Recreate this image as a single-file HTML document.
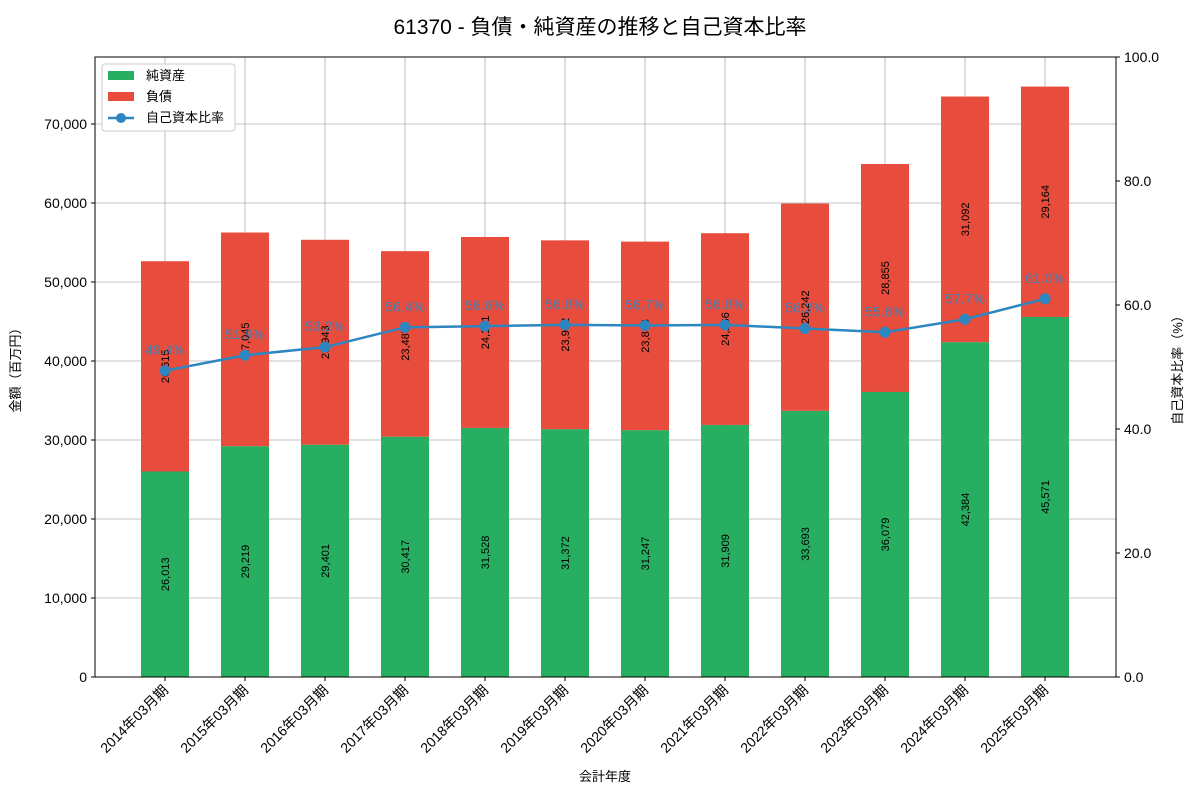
<!DOCTYPE html>
<html><head><meta charset="utf-8">
<style>
body{margin:0;background:#fff;font-family:"Liberation Sans","Noto Sans CJK JP",sans-serif;}
svg text{font-family:"Liberation Sans","Noto Sans CJK JP",sans-serif;}
</style></head>
<body>
<svg id="chart" width="1200" height="800" xmlns="http://www.w3.org/2000/svg">
<text x="600" y="34" text-anchor="middle" font-size="21" fill="#000">61370 - 負債・純資産の推移と自己資本比率</text>
<g id="grid"></g>
<g id="bars"></g>
<g id="line"></g>
<g id="axes"></g>
<text x="20" y="367" transform="rotate(-90 20 367)" text-anchor="middle" font-size="13">金額（百万円）</text>
<text x="1182" y="367" transform="rotate(-90 1182 367)" text-anchor="middle" font-size="13">自己資本比率（%）</text>
<text x="605" y="781" text-anchor="middle" font-size="13">会計年度</text>
<g>
<rect x="102" y="64" width="133" height="67" fill="#fff" stroke="#ccc" rx="3"/>
<rect x="108" y="71" width="26" height="9" fill="#27ae60"/>
<text x="146" y="80" font-size="13">純資産</text>
<rect x="108" y="92" width="26" height="9" fill="#e74c3c"/>
<text x="146" y="101" font-size="13">負債</text>
<line x1="108" y1="118" x2="134" y2="118" stroke="#2e86c1" stroke-width="2.5"/>
<circle cx="121" cy="118" r="5" fill="#2e86c1"/>
<text x="146" y="122" font-size="13">自己資本比率</text>
</g>
</svg>
<script>
const categories=["2014年03月期","2015年03月期","2016年03月期","2017年03月期","2018年03月期","2019年03月期","2020年03月期","2021年03月期","2022年03月期","2023年03月期","2024年03月期","2025年03月期"];
const equity=[26013,29219,29401,30417,31528,31372,31247,31909,33693,36079,42384,45571];
const liabilities=[26615,27045,25943,23487,24171,23902,23863,24266,26242,28855,31092,29164];
const ratio=[49.4,51.9,53.2,56.4,56.6,56.8,56.7,56.8,56.2,55.6,57.7,61.0];
const yTicks=[0,10000,20000,30000,40000,50000,60000,70000];
const y2Ticks=[0,20,40,60,80,100];
const NS="http://www.w3.org/2000/svg";
const L=95,R=1116,T=57,B=677,yMax=78481;
const x=i=>165+i*80;
const y=v=>B-(v/yMax)*(B-T);
const y2=v=>B-(v/100)*(B-T);
function mk(tag,attrs,parent,txt){const e=document.createElementNS(NS,tag);for(const k in attrs)e.setAttribute(k,attrs[k]);if(txt!==undefined)e.textContent=txt;parent.appendChild(e);return e;}
const grid=document.getElementById('grid'),bars=document.getElementById('bars'),line=document.getElementById('line'),axes=document.getElementById('axes');
yTicks.forEach(t=>{const g=mk('line',{x1:L,x2:R,y1:y(t),y2:y(t),stroke:'#b0b0b0','stroke-width':0.8},grid);


mk('line',{x1:L-4,x2:L,y1:y(t),y2:y(t),stroke:'#000'},axes);
const lb=mk('text',{x:L-8,y:y(t)+5,'text-anchor':'end','font-size':14},axes,t.toLocaleString('en-US'));

});
y2Ticks.forEach(t=>{mk('line',{x1:R,x2:R+4,y1:y2(t),y2:y2(t),stroke:'#000'},axes);
const lb=mk('text',{x:R+8,y:y2(t)+5,'font-size':14},axes,t.toFixed(1));

});
categories.forEach((c,i)=>{const gl=mk('line',{x1:x(i),x2:x(i),y1:T,y2:B,stroke:'#b0b0b0','stroke-width':0.8},grid);


mk('line',{x1:x(i),x2:x(i),y1:B,y2:B+4,stroke:'#000'},axes);
const lb=mk('text',{x:x(i)+4,y:B+14,'text-anchor':'end','font-size':14,transform:`rotate(-45 ${x(i)+4} ${B+14})`},axes,c);


const e=equity[i],l=liabilities[i],w=48;
const r1=mk('rect',{x:x(i)-w/2,y:y(e),width:w,height:B-y(e),fill:'#27ae60'},bars);


const r2=mk('rect',{x:x(i)-w/2,y:y(e+l),width:w,height:y(e)-y(e+l),fill:'#e74c3c'},bars);


[[e/2,e],[e+l/2,l]].forEach(([m,v])=>{const ty=y(m);const t=mk('text',{x:x(i)+4,y:ty,'text-anchor':'middle','font-size':11,transform:`rotate(-90 ${x(i)+4} ${ty})`},bars,v.toLocaleString('en-US'));

});});
mk('rect',{x:L,y:T,width:R-L,height:B-T,fill:'none',stroke:'#000','stroke-width':1},axes);
const pts=ratio.map((v,i)=>x(i)+','+y2(v)).join(' ');
const pl=mk('polyline',{points:pts,fill:'none',stroke:'#2e86c1','stroke-width':2.5},line);


ratio.forEach((v,i)=>{const c=mk('circle',{cx:x(i),cy:y2(v),r:5.5,fill:'#2e86c1'},line);


const t=mk('text',{x:x(i),y:y2(v)-16,'text-anchor':'middle','font-size':14,fill:'#2e86c1','fill-opacity':0.85},line,v.toFixed(1)+'%');

});
</script>
</body></html>
